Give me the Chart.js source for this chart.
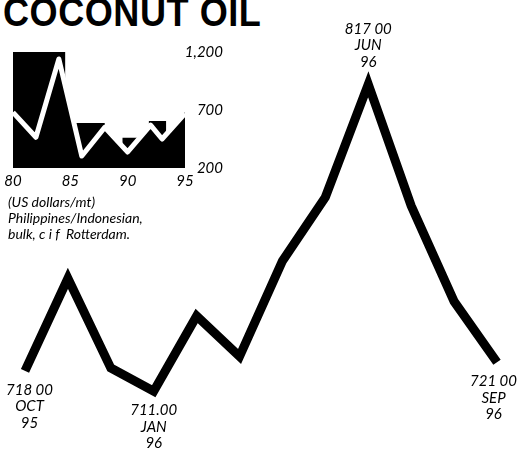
<!DOCTYPE html>
<html>
<head>
<meta charset="utf-8">
<script src="https://cdn.jsdelivr.net/npm/chart.js@4.4.1/dist/chart.umd.min.js"></script>
<style>
  html, body { margin: 0; padding: 0; background: #fff; }
  #wrap { position: relative; width: 517px; height: 454px; overflow: hidden; background: #fff; }
  #main { position: absolute; left: 0; top: 0; }
  #inset { position: absolute; left: 0; top: 40px; z-index: 2; }
  #title { position: absolute; left: 3px; top: -8px; font-family: "Liberation Sans", Arial, sans-serif; font-weight: bold; font-size: 41px; line-height: 41px; color: #000; transform: scaleX(0.88); transform-origin: 0 0; white-space: nowrap; letter-spacing: 0.6px; }
  #caption { position: absolute; left: 8px; top: 194px; font-family: Lato, sans-serif; font-style: italic; font-size: 14px; line-height: 16px; color: #000; white-space: nowrap; z-index: 3; }
</style>
</head>
<body>
<div id="wrap">
  <div id="title">COCONUT OIL</div>
  <canvas id="main" width="517" height="454"></canvas>
  <canvas id="inset" width="224" height="150"></canvas>
  <div id="caption">(US dollars/mt)<br>Philippines/Indonesian,<br>bulk, c i f&nbsp; Rotterdam.</div>
</div>
<script>
// ---- main chart data ----
const months = ['OCT','NOV','DEC','JAN','FEB','MAR','APR','MAY','JUN','JUL','AUG','SEP'];
const monthYears = ['95','95','95','96','96','96','96','96','96','96','96','96'];
const prices = [718, 750, 719, 711, 737, 723, 756, 778, 817, 775, 742, 721];
const labelledIdx = [0, 3, 8, 11];
const labelledText = ['718 00', '711.00', '817 00', '721 00'];
const labelAbove = [false, false, true, false];

// ---- inset chart data ----
const insetYears = [80, 82, 84, 86, 88, 90, 92, 93, 95];
const insetPrices = [680, 465, 1140, 303, 550, 338, 570, 450, 670];
const envelopeYears = [80, 84.55, 84.55, 85.35, 88.0, 88.0, 89.55, 89.55, 90.85, 91.85, 91.85, 93.35, 93.35, 95, 95];
const envelopeValues = [1200, 1200, 930, 588, 588, 540, 370, 460, 460, 560, 605, 605, 510, 680, 720];
const insetXTicks = [80, 85, 90, 95];
const insetYTicks = [200, 700, 1200];

const italicFont = 'Lato';

const labelPlugin = {
  id: 'pointLabels',
  afterDatasetsDraw(chart) {
    const ctx = chart.ctx;
    const meta = chart.getDatasetMeta(0);
    ctx.save();
    ctx.fillStyle = '#000';
    ctx.font = 'italic 15px ' + italicFont;
    ctx.textAlign = 'center';
    ctx.textBaseline = 'middle';
    const lh = 16.6;
    labelledIdx.forEach((idx, k) => {
      const p = meta.data[idx];
      const lines = [labelledText[k], months[idx], monthYears[idx]];
      const w = ctx.measureText(lines[0]).width;
      let x = Math.min(p.x, chart.width - w / 2);
      x = Math.max(x, w / 2 + 6);
      lines.forEach((t, j) => {
        const y = labelAbove[k] ? p.y - 22 - (2 - j) * lh : p.y + 19 + j * lh;
        ctx.fillText(t, x, y);
      });
    });
    ctx.restore();
  }
};

new Chart(document.getElementById('main'), {
  type: 'line',
  data: {
    labels: months.map((m, i) => m + ' ' + monthYears[i]),
    datasets: [{
      data: prices,
      borderColor: '#000',
      borderWidth: 9,
      pointRadius: 0,
      tension: 0,
      fill: false,
      borderJoinStyle: 'miter',
      borderCapStyle: 'butt'
    }]
  },
  options: {
    responsive: false,
    animation: false,
    devicePixelRatio: 1,
    layout: { padding: { left: 25, right: 20, top: 17.6, bottom: 30.9 } },
    scales: {
      x: { display: false },
      y: { display: false, min: 700, max: 840 }
    },
    plugins: { legend: { display: false }, tooltip: { enabled: false } }
  },
  plugins: [labelPlugin]
});

new Chart(document.getElementById('inset'), {
  type: 'line',
  data: {
    datasets: [
      {
        data: insetYears.map((y, i) => ({ x: y, y: insetPrices[i] })),
        borderColor: '#fff',
        borderWidth: 5,
        pointRadius: 0,
        tension: 0,
        fill: false,
        borderJoinStyle: 'round',
        borderCapStyle: 'butt',
        order: 0
      },
      {
        data: envelopeYears.map((y, i) => ({ x: y, y: envelopeValues[i] })),
        borderColor: '#000',
        borderWidth: 0,
        backgroundColor: '#000',
        pointRadius: 0,
        tension: 0,
        fill: 'start',
        order: 1
      }
    ]
  },
  options: {
    responsive: false,
    animation: false,
    devicePixelRatio: 1,
    layout: { padding: { left: 13, right: 0, top: 12, bottom: 0 } },
    scales: {
      x: {
        type: 'linear', min: 80, max: 95,
        afterBuildTicks: (s) => { s.ticks = insetXTicks.map(v => ({ value: v })); },
        afterFit: (s) => { s.height = 22; },
        grid: { display: false, drawTicks: false },
        border: { display: false },
        ticks: { padding: 4, color: '#000', maxRotation: 0, autoSkip: false,
          font: { family: italicFont, style: 'italic', size: 15 } }
      },
      y: {
        position: 'right', min: 200, max: 1200,
        afterBuildTicks: (s) => { s.ticks = insetYTicks.map(v => ({ value: v })); },
        afterFit: (s) => { s.width = 39; s.paddingTop = 0; s.paddingBottom = 0; },
        grid: { display: false, drawTicks: false },
        border: { display: false },
        ticks: { mirror: true, padding: 38, color: '#000', crossAlign: 'near',
          callback: (v) => Number(v).toLocaleString('en-US'),
          font: { family: italicFont, style: 'italic', size: 15 } }
      }
    },
    plugins: { legend: { display: false }, tooltip: { enabled: false } }
  }
});
</script>
</body>
</html>
